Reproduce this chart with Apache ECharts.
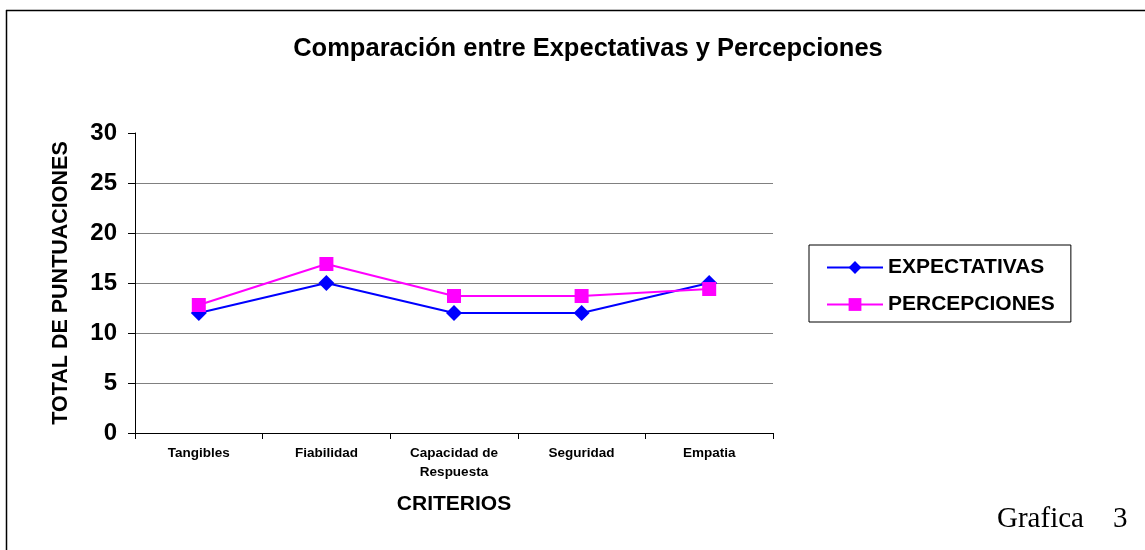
<!DOCTYPE html>
<html>
<head>
<meta charset="utf-8">
<script src="https://cdn.jsdelivr.net/npm/echarts@6/dist/echarts.min.js"></script>
<style>html,body{margin:0;padding:0;background:#fff;}#c{width:1145px;height:550px;}</style>
</head>
<body>
<div id="c"></div>
<script>
const categories = ['Tangibles', 'Fiabilidad', 'Capacidad de\nRespuesta', 'Seguridad', 'Empatia'];
const expectativas = [12, 15, 12, 12, 15];
const percepciones = [12.8, 16.9, 13.7, 13.7, 14.4];
const yTicks = [0, 5, 10, 15, 20, 25, 30];

const chart = echarts.init(document.getElementById('c'), null, {renderer: 'canvas'});
const F = 'Liberation Sans, Arial, sans-serif';
chart.setOption({
  backgroundColor: '#fff',
  animation: false,
  title: {
    text: 'Comparación entre Expectativas y Percepciones',
    left: 583, top: 31, textAlign: 'center',
    textStyle: {fontFamily: F, fontWeight: 'bold', fontSize: 25.5, color: '#000'}
  },
  grid: {left: 135, right: 372, top: 133, bottom: 117, containLabel: false},
  legend: {
    orient: 'vertical', left: 809, top: 245,
    padding: [11, 16, 6, 17],
    itemWidth: 56, itemHeight: 16, itemGap: 14,
    borderColor: '#000', borderWidth: 1,
    textStyle: {fontFamily: F, fontWeight: 'bold', fontSize: 21, lineHeight: 23, color: '#000'},
    data: ['EXPECTATIVAS', 'PERCEPCIONES']
  },
  xAxis: {
    type: 'category', data: categories, boundaryGap: true,
    axisLine: {lineStyle: {color: '#000', width: 1}},
    axisTick: {show: true, length: 6, lineStyle: {color: '#000'}},
    axisLabel: {fontFamily: F, fontWeight: 'bold', fontSize: 13.5, color: '#000', margin: 11, lineHeight: 19, interval: 0},
    name: 'CRITERIOS', nameLocation: 'middle', nameGap: 61,
    nameTextStyle: {fontFamily: F, fontWeight: 'bold', fontSize: 21, color: '#000'}
  },
  yAxis: {
    type: 'value', min: 0, max: 30, interval: 5,
    axisLine: {show: true, lineStyle: {color: '#000', width: 1}},
    axisTick: {show: true, length: 7, lineStyle: {color: '#000'}},
    axisLabel: {fontFamily: F, fontWeight: 'bold', fontSize: 24, color: '#000', margin: 18,
      formatter: v => yTicks.includes(v) ? String(v) : ''},
    splitLine: {show: true, lineStyle: {color: ['#808080','#808080','#808080','#808080','#808080','#808080','rgba(0,0,0,0)'], width: 1}},
    name: 'TOTAL DE PUNTUACIONES', nameLocation: 'middle', nameGap: 63, nameRotate: 90,
    nameTextStyle: {fontFamily: F, fontWeight: 'bold', fontSize: 21.5, color: '#000'}
  },
  series: [
    {
      name: 'EXPECTATIVAS', type: 'line', data: expectativas,
      symbol: 'diamond', symbolSize: 16,
      lineStyle: {color: '#0000ff', width: 2},
      itemStyle: {color: '#0000ff'}
    },
    {
      name: 'PERCEPCIONES', type: 'line', data: percepciones,
      symbol: 'rect', symbolSize: 14,
      lineStyle: {color: '#ff00ff', width: 2},
      itemStyle: {color: '#ff00ff'}
    }
  ],
  graphic: [
    {type: 'line', shape: {x1: 6, y1: 10.5, x2: 1145, y2: 10.5}, style: {stroke: '#000', lineWidth: 1.5}},
    {type: 'line', shape: {x1: 6.5, y1: 10, x2: 6.5, y2: 550}, style: {stroke: '#000', lineWidth: 1.5}},
    {type: 'text', left: 997, top: 505, style: {text: 'Grafica    3', font: '29px "Liberation Serif", "Times New Roman", serif', fill: '#000'}}
  ]
});
</script>
</body>
</html>
